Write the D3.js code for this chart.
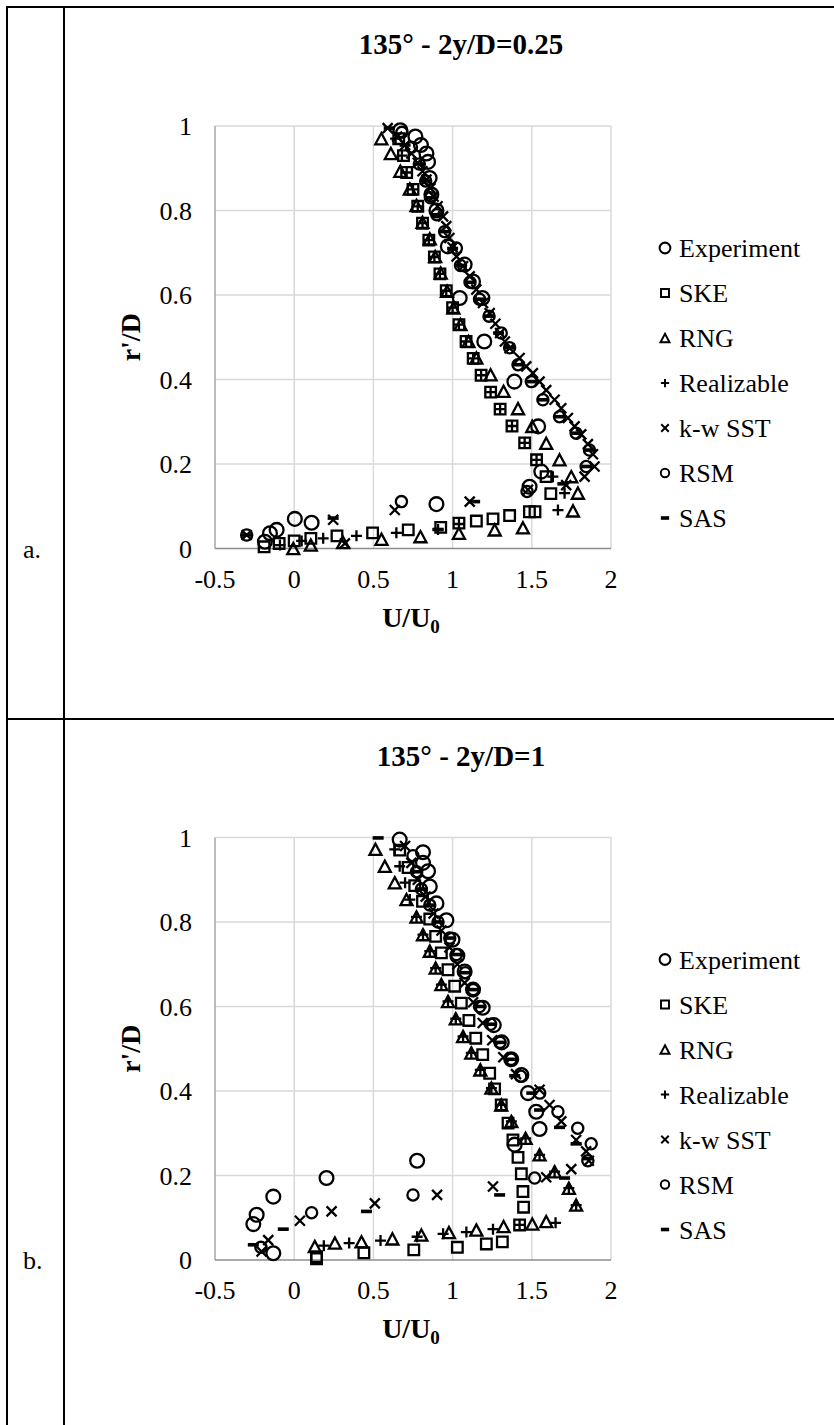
<!DOCTYPE html>
<html><head><meta charset="utf-8">
<script src="https://cdn.jsdelivr.net/npm/d3@7"></script>
<style>body{margin:0;background:#fff}svg{display:block}</style>
</head><body><svg id="c" width="834" height="1425"></svg>
<script>
const seriesNames = ["Experiment","SKE","RNG","Realizable","k-w SST","RSM","SAS"];
const seriesShapes = ["circleL","square","triangle","plus","cross","circleS","dash"];
const xTicks = [-0.5,0,0.5,1,1.5,2];
const yTicks = [0,0.2,0.4,0.6,0.8,1];
const chartTitles = ["135° - 2y/D=0.25","135° - 2y/D=1"];
const panelLabels = ["a.","b."];

// ---- Chart a : [U/U0, r'/D]
const expA = [[0.67,0.99],[0.765,0.975],[0.80,0.955],[0.835,0.935],[0.845,0.915],[0.855,0.877],[0.866,0.838],[0.898,0.80],[0.97,0.715],[1.076,0.672],[1.129,0.632],[1.188,0.593],[1.045,0.593],[1.20,0.49],[1.39,0.395],[1.54,0.289],[1.56,0.182],[1.486,0.146],[0.898,0.105],[0.004,0.07],[0.11,0.061],[-0.111,0.044],[-0.153,0.036],[-0.185,0.016]];
const skeA = [[0.66,0.97],[0.69,0.93],[0.71,0.89],[0.75,0.85],[0.78,0.81],[0.81,0.77],[0.85,0.73],[0.885,0.69],[0.92,0.65],[0.96,0.61],[1.0,0.57],[1.04,0.53],[1.085,0.49],[1.13,0.45],[1.18,0.41],[1.24,0.37],[1.30,0.33],[1.375,0.29],[1.455,0.25],[1.53,0.21],[1.59,0.17],[1.62,0.13],[1.52,0.087],[1.485,0.087],[1.36,0.078],[1.255,0.07],[1.15,0.065],[1.04,0.06],[0.925,0.05],[0.72,0.044],[0.495,0.037],[0.27,0.03],[0.105,0.024],[0.0,0.018],[-0.095,0.012],[-0.19,0.004]];
const rngA = [[0.55,0.97],[0.61,0.935],[0.67,0.893],[0.73,0.851],[0.772,0.812],[0.81,0.772],[0.856,0.733],[0.89,0.691],[0.925,0.652],[0.965,0.609],[1.005,0.569],[1.05,0.53],[1.10,0.49],[1.15,0.451],[1.24,0.411],[1.322,0.372],[1.413,0.331],[1.503,0.289],[1.591,0.249],[1.675,0.21],[1.749,0.17],[1.791,0.131],[1.76,0.089],[1.444,0.049],[1.266,0.044],[1.04,0.036],[0.797,0.028],[0.551,0.022],[0.309,0.014],[0.105,0.008],[-0.006,0.0]];
const realA = [[0.64,0.97],[0.68,0.93],[0.71,0.89],[0.75,0.85],[0.78,0.81],[0.81,0.77],[0.85,0.73],[0.885,0.69],[0.92,0.65],[0.96,0.61],[1.0,0.57],[1.04,0.53],[1.085,0.49],[1.13,0.45],[1.18,0.41],[1.24,0.37],[1.30,0.33],[1.375,0.29],[1.455,0.25],[1.53,0.21],[1.633,0.17],[1.707,0.131],[1.665,0.091],[1.04,0.058],[0.908,0.045],[0.645,0.037],[0.393,0.03],[0.183,0.024],[0.047,0.018],[-0.09,0.008]];
const kwA = [[0.59,0.995],[0.65,0.975],[0.70,0.955],[0.74,0.935],[0.78,0.913],[0.81,0.893],[0.835,0.873],[0.86,0.853],[0.88,0.833],[0.905,0.81],[0.94,0.786],[0.96,0.763],[0.98,0.735],[1.0,0.713],[1.025,0.691],[1.066,0.668],[1.108,0.644],[1.15,0.613],[1.192,0.581],[1.234,0.557],[1.27,0.532],[1.30,0.51],[1.33,0.49],[1.36,0.474],[1.423,0.451],[1.465,0.431],[1.507,0.415],[1.549,0.395],[1.591,0.375],[1.644,0.352],[1.686,0.332],[1.728,0.309],[1.77,0.289],[1.812,0.27],[1.854,0.247],[1.886,0.223],[1.896,0.194],[1.833,0.17],[1.717,0.15],[1.476,0.139],[1.108,0.111],[0.635,0.091],[0.246,0.068],[-0.30,0.032],[0.32,0.012]];
const rsmA = [[0.68,0.985],[0.74,0.95],[0.79,0.91],[0.83,0.87],[0.86,0.83],[0.90,0.79],[0.95,0.75],[1.024,0.711],[1.05,0.67],[1.11,0.63],[1.17,0.59],[1.23,0.55],[1.307,0.51],[1.36,0.475],[1.413,0.435],[1.497,0.395],[1.57,0.352],[1.675,0.312],[1.78,0.273],[1.864,0.233],[1.843,0.194],[1.47,0.135],[0.677,0.111],[-0.30,0.032]];
const sasA = [[0.60,0.995],[0.70,0.955],[0.79,0.91],[0.83,0.87],[0.86,0.83],[0.90,0.79],[0.95,0.75],[1.00,0.71],[1.05,0.67],[1.11,0.63],[1.17,0.59],[1.23,0.55],[1.29,0.51],[1.36,0.475],[1.413,0.435],[1.497,0.395],[1.57,0.352],[1.675,0.312],[1.78,0.273],[1.864,0.233],[1.843,0.194],[1.696,0.153],[1.139,0.111],[0.246,0.072],[0.908,0.045],[-0.30,0.032]];

// ---- Chart b
const expB = [[0.666,0.995],[0.813,0.965],[0.813,0.94],[0.845,0.92],[0.856,0.884],[0.898,0.844],[0.961,0.804],[0.999,0.758],[1.03,0.72],[1.076,0.683],[1.129,0.64],[1.19,0.597],[1.26,0.556],[1.31,0.515],[1.37,0.475],[1.434,0.438],[1.476,0.395],[1.528,0.351],[1.549,0.31],[1.392,0.273],[0.776,0.235],[0.204,0.194],[-0.132,0.15],[-0.237,0.107],[-0.258,0.085],[-0.132,0.016]];
const skeB = [[0.666,0.97],[0.719,0.929],[0.761,0.886],[0.81,0.849],[0.856,0.807],[0.893,0.766],[0.929,0.727],[0.971,0.687],[1.013,0.648],[1.055,0.608],[1.103,0.567],[1.146,0.525],[1.19,0.486],[1.234,0.442],[1.265,0.405],[1.307,0.367],[1.35,0.324],[1.381,0.284],[1.413,0.243],[1.434,0.204],[1.444,0.162],[1.448,0.125],[1.423,0.083],[1.314,0.043],[1.213,0.038],[1.03,0.03],[0.755,0.024],[0.44,0.017],[0.141,0.008],[0.141,0.003]];
const rngB = [[0.513,0.972],[0.572,0.932],[0.635,0.893],[0.709,0.853],[0.772,0.812],[0.813,0.77],[0.856,0.731],[0.893,0.691],[0.929,0.652],[0.971,0.612],[1.02,0.571],[1.066,0.529],[1.118,0.49],[1.175,0.45],[1.245,0.407],[1.307,0.367],[1.371,0.328],[1.461,0.288],[1.549,0.249],[1.644,0.209],[1.734,0.17],[1.78,0.13],[1.591,0.091],[1.503,0.085],[1.322,0.079],[1.15,0.071],[0.977,0.065],[0.803,0.059],[0.62,0.05],[0.425,0.043],[0.257,0.04],[0.13,0.032]];
const realB = [[0.635,0.972],[0.666,0.932],[0.70,0.893],[0.73,0.853],[0.772,0.812],[0.813,0.77],[0.856,0.731],[0.893,0.691],[0.929,0.652],[0.971,0.612],[1.02,0.571],[1.066,0.529],[1.118,0.49],[1.175,0.45],[1.245,0.407],[1.307,0.367],[1.371,0.328],[1.461,0.288],[1.549,0.249],[1.644,0.209],[1.734,0.17],[1.78,0.13],[1.65,0.088],[1.423,0.083],[1.255,0.073],[1.087,0.066],[0.94,0.062],[0.776,0.055],[0.545,0.046],[0.347,0.04],[0.187,0.034]];
const kwB = [[0.70,0.98],[0.74,0.94],[0.78,0.90],[0.83,0.86],[0.88,0.82],[0.93,0.78],[0.98,0.74],[1.03,0.70],[1.076,0.656],[1.13,0.61],[1.19,0.561],[1.25,0.52],[1.32,0.48],[1.40,0.44],[1.549,0.403],[1.612,0.367],[1.686,0.328],[1.78,0.284],[1.843,0.257],[1.86,0.235],[1.749,0.215],[1.591,0.196],[1.255,0.174],[0.902,0.154],[0.509,0.134],[0.236,0.115],[0.036,0.093],[-0.164,0.047],[-0.206,0.02]];
const rsmB = [[0.75,0.957],[0.772,0.919],[0.803,0.878],[0.856,0.84],[0.908,0.80],[0.982,0.762],[1.024,0.723],[1.08,0.68],[1.13,0.64],[1.17,0.60],[1.24,0.558],[1.30,0.515],[1.37,0.475],[1.43,0.435],[1.55,0.395],[1.665,0.351],[1.79,0.312],[1.875,0.275],[1.854,0.235],[1.518,0.194],[0.75,0.154],[0.11,0.112],[-0.21,0.03]];
const sasB = [[0.53,0.999],[0.78,0.919],[0.81,0.878],[0.86,0.84],[0.91,0.80],[0.98,0.762],[1.03,0.723],[1.08,0.68],[1.13,0.64],[1.18,0.60],[1.24,0.558],[1.30,0.515],[1.37,0.475],[1.392,0.436],[1.50,0.395],[1.549,0.355],[1.675,0.314],[1.78,0.275],[1.85,0.24],[1.707,0.194],[1.297,0.154],[0.456,0.115],[-0.069,0.073],[-0.258,0.036]];

const chartsData = [
  [expA, skeA, rngA, realA, kwA, rsmA, sasA],
  [expB, skeB, rngB, realB, kwB, rsmB, sasB]
];

const svg = d3.select("#c");
const serif = "'Liberation Serif','Times New Roman',serif";

// table lines
const tbl = svg.append("g").attr("stroke","#000").attr("stroke-width",2);
tbl.append("line").attr("x1",7).attr("x2",7).attr("y1",6).attr("y2",1425);
tbl.append("line").attr("x1",64).attr("x2",64).attr("y1",6).attr("y2",1425);
tbl.append("line").attr("x1",6).attr("x2",834).attr("y1",7).attr("y2",7);
tbl.append("line").attr("x1",6).attr("x2",834).attr("y1",719).attr("y2",719);

const SW = 2.3;
function markerPath(shape, s) {
  switch (shape) {
    case "square": { const h = 5.3*s; return `M${-h},${-h}H${h}V${h}H${-h}Z`; }
    case "triangle": { const w = 6*s, h = 5.6*s; return `M0,${-h}L${w},${h}L${-w},${h}Z`; }
    case "plus": { const a = 5.5*s; return `M${-a},0H${a}M0,${-a}V${a}`; }
    case "cross": { const a = 5*s; return `M${-a},${-a}L${a},${a}M${-a},${a}L${a},${-a}`; }
  }
  return null;
}
function drawMarker(g, shape, cx, cy, s) {
  if (shape === "circleL" || shape === "circleS") {
    g.append("circle").attr("cx",cx).attr("cy",cy).attr("r",(shape==="circleL"?6.9:5.6)*s)
      .attr("fill","none").attr("stroke","#000").attr("stroke-width",SW*Math.min(1,s+0.1));
  } else if (shape === "dash") {
    g.append("rect").attr("x",cx-5.5*s).attr("y",cy-1.8).attr("width",11*s).attr("height",3.6).attr("fill","#000");
  } else {
    g.append("path").attr("transform",`translate(${cx},${cy})`).attr("d",markerPath(shape,s))
      .attr("fill","none").attr("stroke","#000").attr("stroke-width",SW*Math.min(1,s+0.1)).attr("stroke-linejoin","miter");
  }
}

const x = d3.scaleLinear().domain([-0.5,2]).range([215,611]);

chartsData.forEach((series, ci) => {
  const dy = ci * 711.5;
  const y = d3.scaleLinear().domain([0,1]).range([548.5+dy, 126+dy]);
  const g = svg.append("g");

  // gridlines
  g.append("g").selectAll("line").data(yTicks.filter(t=>t>0)).join("line")
    .attr("x1",x(-0.5)).attr("x2",x(2)).attr("y1",d=>y(d)).attr("y2",d=>y(d))
    .attr("stroke","#d9d9d9").attr("stroke-width",1.5);
  g.append("g").selectAll("line").data(xTicks.filter(t=>t>-0.5)).join("line")
    .attr("x1",d=>x(d)).attr("x2",d=>x(d)).attr("y1",y(0)).attr("y2",y(1))
    .attr("stroke","#d9d9d9").attr("stroke-width",1.5);
  // axis lines
  g.append("line").attr("x1",x(-0.5)).attr("x2",x(-0.5)).attr("y1",y(0)).attr("y2",y(1))
    .attr("stroke","#a6a6a6").attr("stroke-width",1.5);
  g.append("line").attr("x1",x(-0.5)).attr("x2",x(2)).attr("y1",y(0)).attr("y2",y(0))
    .attr("stroke","#8c8c8c").attr("stroke-width",1.5);

  // tick labels
  g.append("g").selectAll("text").data(yTicks).join("text")
    .attr("x",192).attr("y",d=>y(d)+9).attr("text-anchor","end")
    .attr("font-family",serif).attr("font-size",26).text(d=>String(d));
  g.append("g").selectAll("text").data(xTicks).join("text")
    .attr("x",d=>x(d)).attr("y",y(0)+39).attr("text-anchor","middle")
    .attr("font-family",serif).attr("font-size",26).text(d=>String(d));

  // title
  g.append("text").attr("x",461).attr("y",54+dy).attr("text-anchor","middle")
    .attr("font-family",serif).attr("font-weight","bold").attr("font-size",29).text(chartTitles[ci]);
  // x axis title
  const xt = g.append("text").attr("x",411).attr("y",y(0)+78).attr("text-anchor","middle")
    .attr("font-family",serif).attr("font-weight","bold").attr("font-size",28);
  xt.append("tspan").text("U/U");
  xt.append("tspan").attr("font-size",19).attr("dy",6).text("0");
  // y axis title
  g.append("text").attr("transform",`translate(140,${(y(0)+y(1))/2}) rotate(-90)`)
    .attr("text-anchor","middle").attr("font-family",serif).attr("font-weight","bold")
    .attr("font-size",28).text("r'/D");
  // panel label
  g.append("text").attr("x",23).attr("y",y(0)+9).attr("font-family",serif)
    .attr("font-size",26).text(panelLabels[ci]);

  // markers
  const mg = g.append("g");
  series.forEach((pts, si) => {
    pts.forEach(p => drawMarker(mg, seriesShapes[si], x(p[0]), y(p[1]), 1));
  });

  // legend
  const lg = g.append("g");
  seriesNames.forEach((name, si) => {
    const ly = 248 + dy + si*45;
    drawMarker(lg, seriesShapes[si], 665, ly, si===0?0.78:0.75);
    lg.append("text").attr("x",679).attr("y",ly+9).attr("font-family",serif)
      .attr("font-size",26).text(name);
  });
});
</script></body></html>
